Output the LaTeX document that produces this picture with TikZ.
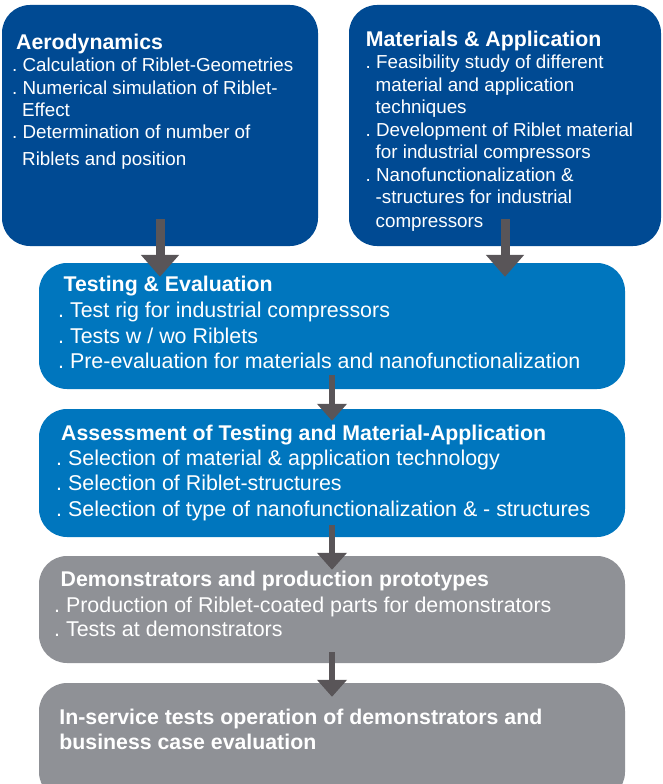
\documentclass[tikz,border=0pt]{standalone}
\usepackage{fontspec}
\setmainfont{Liberation Sans}
\usetikzlibrary{arrows.meta}
\definecolor{darkblue}{RGB}{0,74,147}
\definecolor{midblue}{RGB}{0,118,190}
\definecolor{boxgray}{RGB}{143,145,150}
\definecolor{arrgray}{RGB}{89,85,88}
\frenchspacing
\tikzset{
  box/.style={rounded corners=28pt, inner sep=0pt, draw=none},
  hd/.style={anchor=base west, inner sep=0pt, text=white, font=\bfseries\fontsize{21.3}{25}\selectfont},
  bodysm/.style={anchor=base west, inner sep=0pt, text=white, font=\fontsize{18.8}{22}\selectfont},
  bodylg/.style={anchor=base west, inner sep=0pt, text=white, font=\fontsize{21.4}{25}\selectfont},
  arrbig/.style={draw=arrgray, line width=9pt, -{Triangle[length=22pt 0 0, width=37pt 0 0]}, fill=arrgray},
  arrsm/.style={draw=arrgray, line width=6pt, -{Triangle[length=17pt 0 0, width=29pt 0 0]}, fill=arrgray}
}
\begin{document}
\begin{tikzpicture}[x=1pt,y=-1pt]
\useasboundingbox (0,0) rectangle (663,784);
\clip (0,0) rectangle (663,784);
% boxes
\node[box, fill=darkblue, minimum width=316pt, minimum height=241pt] (aero) at (160,125.5) {};
\node[box, fill=darkblue, minimum width=312pt, minimum height=241pt] (mat) at (505,125.5) {};
\node[box, fill=midblue, minimum width=586pt, minimum height=126pt] (test) at (332,326) {};
\node[box, fill=midblue, minimum width=586pt, minimum height=128pt] (assess) at (332,473) {};
\node[box, fill=boxgray, minimum width=586pt, minimum height=107pt] (demo) at (332,609.5) {};
\node[box, fill=boxgray, minimum width=586pt, minimum height=117pt] (inserv) at (332,741.5) {};
% texts: aerodynamics
\node[hd] (aeroH) at (16,50) {Aerodynamics};
\node[bodysm] (aero1) at (12,71.7) {. Calculation of Riblet-Geometries};
\node[bodysm] (aero2) at (12,94) {. Numerical simulation of Riblet-};
\node[bodysm] (aero2b) at (22,116.7) {Effect};
\node[bodysm] (aero3) at (12,138.3) {. Determination of number of};
\node[bodysm] (aero3b) at (22,165) {Riblets and position};
% materials
\node[hd] (matH) at (365.7,46.7) {Materials \& Application};
\node[bodysm] (mat1) at (365.5,68.3) {. Feasibility study of different};
\node[bodysm] (mat1b) at (375.5,91.7) {material and application};
\node[bodysm] (mat1c) at (375.5,113.5) {techniques};
\node[bodysm] (mat2) at (365.5,136.7) {. Development of Riblet material};
\node[bodysm] (mat2b) at (375.5,158.3) {for industrial compressors};
\node[bodysm] (mat3) at (365.5,181) {. Nanofunctionalization \&};
\node[bodysm] (mat3b) at (375.5,203.3) {-structures for industrial};
\node[bodysm] (mat3c) at (375.5,227.7) {compressors};
% testing
\node[hd] (testH) at (63.4,291) {Testing \& Evaluation};
\node[bodylg] (test1) at (58,317) {. Test rig for industrial compressors};
\node[bodylg] (test2) at (58,343) {. Tests w / wo Riblets};
\node[bodylg] (test3) at (58,368) {. Pre-evaluation for materials and nanofunctionalization};
% assessment
\node[hd] (assessH) at (61,440) {Assessment of Testing and Material-Application};
\node[bodylg] (assess1) at (56,465.7) {. Selection of material \& application technology};
\node[bodylg] (assess2) at (56,490.7) {. Selection of Riblet-structures};
\node[bodylg] (assess3) at (56,516.7) {. Selection of type of nanofunctionalization \& - structures};
% demonstrators
\node[hd] (demoH) at (60.5,586.7) {Demonstrators and production prototypes};
\node[bodylg] (demo1) at (54,612.7) {. Production of Riblet-coated parts for demonstrators};
\node[bodylg] (demo2) at (54,636.7) {. Tests at demonstrators};
% in-service
\node[hd] (inservH) at (59.2,724) {In-service tests operation of demonstrators and};
\node[hd] (inservH2) at (59.2,749.3) {business case evaluation};
% arrows
\draw[arrbig] ([yshift=27pt]aero.south) -- ([yshift=-14pt]aero.south |- test.north);
\draw[arrbig] ([yshift=27pt]mat.south) -- ([yshift=-14pt]mat.south |- test.north);
\draw[arrsm] ([yshift=14pt]test.south) -- ([yshift=-12pt]assess.north);
\draw[arrsm] ([yshift=12pt]assess.south) -- ([yshift=-14pt]demo.north);
\draw[arrsm] ([yshift=11pt]demo.south) -- ([yshift=-14pt]inserv.north);
\end{tikzpicture}
\end{document}
